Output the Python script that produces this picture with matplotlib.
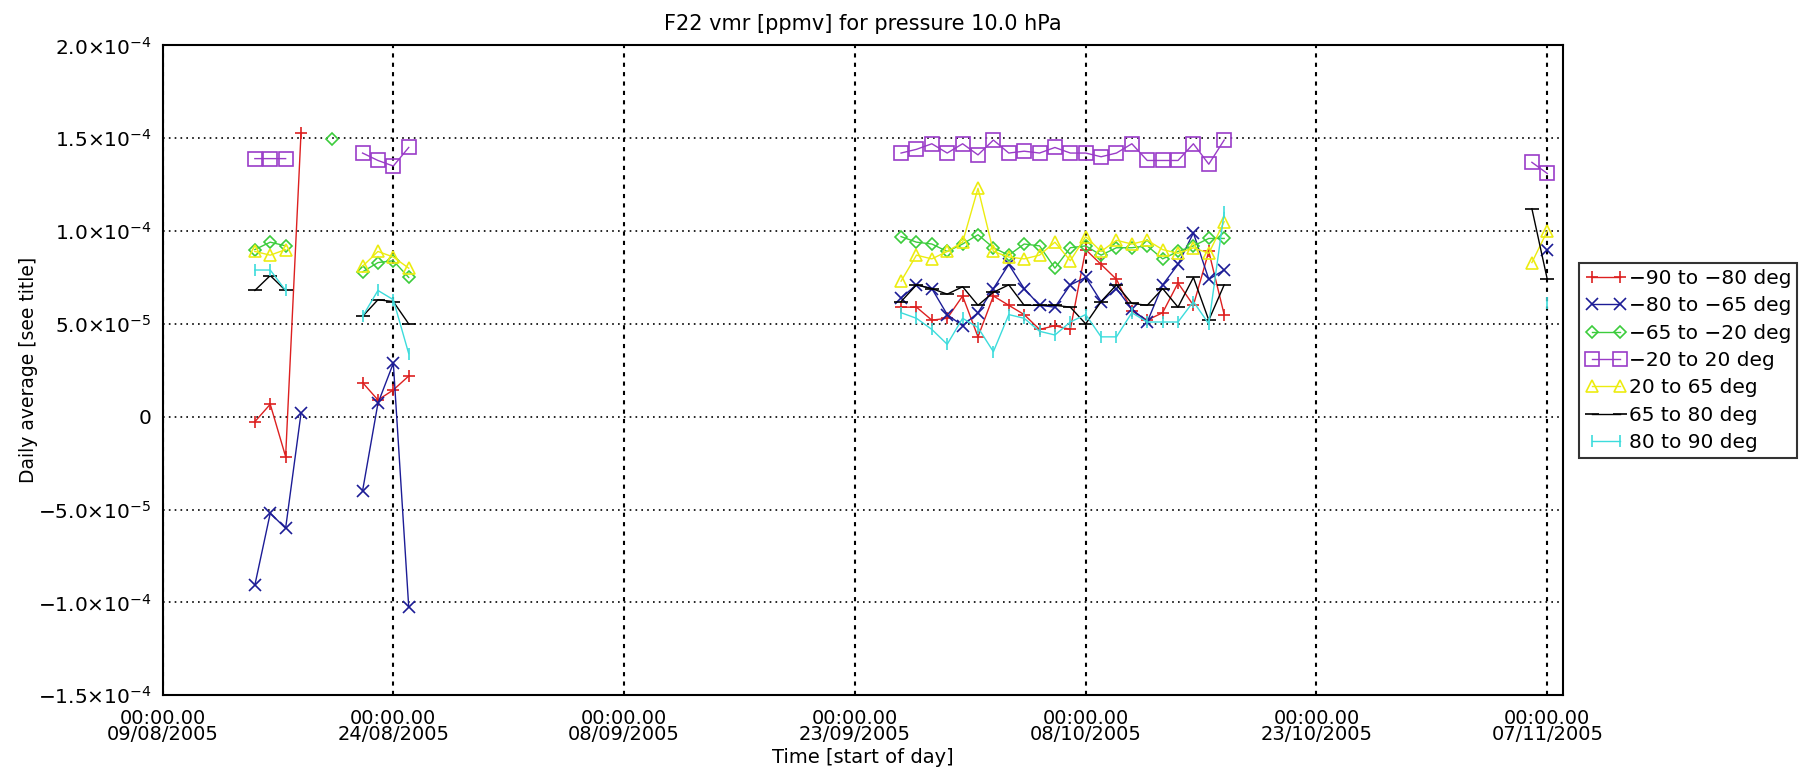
import numpy as np
import pandas as pd
import matplotlib
matplotlib.use("Agg")
import matplotlib.pyplot as plt
from matplotlib.ticker import FixedLocator, FuncFormatter

# day offsets from 09/08/2005 (start of day)
days = [6, 7, 8, 9, 11, 13, 14, 15, 16,
        48, 49, 50, 51, 52, 53, 54, 55, 56, 57, 58,
        59, 60, 61, 62, 63, 64, 65, 66, 67, 68, 69,
        89, 90]

nan = np.nan
# daily averages in units of 1e-5 ppmv
lat_m90_m80 = [-0.27, 0.67, -2.15, 15.27, nan, 1.84, 0.9, 1.44, 2.19,
               5.9, 5.9, 5.2, 5.3, 6.5, 4.3, 6.5, 6.0, 5.5, 4.7, 4.9,
               4.7, 9.0, 8.2, 7.4, 5.7, 5.2, 5.6, 7.2, 6.0, 8.9, 5.5,
               nan, nan]
lat_m80_m65 = [-9.07, -5.2, -6.01, 0.18, nan, -4.0, 0.72, 2.88, -10.24,
               6.4, 7.1, 6.9, 5.5, 4.9, 5.6, 6.9, 8.2, 6.9, 6.0, 5.9,
               7.1, 7.5, 6.2, 6.9, 5.8, 5.1, 7.1, 8.2, 9.9, 7.4, 7.9,
               nan, 9.0]
lat_m65_m20 = [9.0, 9.4, 9.2, nan, 14.95, 7.8, 8.3, 8.4, 7.5,
               9.7, 9.4, 9.3, 8.9, 9.3, 9.8, 9.1, 8.7, 9.3, 9.2, 8.0,
               9.1, 9.2, 8.7, 9.1, 9.1, 9.2, 8.5, 8.9, 9.2, 9.6, 9.6,
               nan, nan]
lat_m20_20 = [13.9, 13.9, 13.9, nan, nan, 14.2, 13.8, 13.5, 14.5,
              14.2, 14.4, 14.7, 14.2, 14.7, 14.1, 14.9, 14.2, 14.3, 14.2, 14.5,
              14.2, 14.2, 14.0, 14.2, 14.7, 13.8, 13.8, 13.8, 14.7, 13.6, 14.9,
              13.7, 13.1]
lat_20_65 = [8.9, 8.7, 9.0, nan, nan, 8.1, 8.9, 8.6, 8.0,
             7.3, 8.7, 8.5, 8.9, 9.4, 12.3, 8.9, 8.6, 8.5, 8.7, 9.4,
             8.4, 9.7, 8.9, 9.5, 9.3, 9.5, 9.0, 8.8, 9.1, 8.8, 10.5,
             8.3, 10.0]
lat_65_80 = [6.8, 7.6, 6.8, nan, nan, 5.4, 6.3, 6.2, 5.0,
             6.2, 7.1, 6.9, 6.6, 7.0, 6.0, 6.7, 7.1, 6.0, 6.0, 6.0,
             5.9, 5.0, 6.2, 7.1, 6.1, 6.0, 6.9, 5.9, 7.5, 5.2, 7.1,
             11.2, 7.4]
lat_80_90 = [7.9, 7.9, 6.8, nan, nan, 5.4, 6.8, 6.3, 3.4,
             5.6, 5.3, 4.7, 3.9, 5.3, 4.8, 3.5, 5.5, 5.3, 4.6, 4.4,
             5.1, 5.5, 4.3, 4.3, 5.6, 5.1, 5.1, 5.1, 6.2, 5.0, 11.0,
             nan, 6.1]

labels = ['\u221290 to \u221280 deg', '\u221280 to \u221265 deg', '\u221265 to \u221220 deg',
          '\u221220 to 20 deg', '20 to 65 deg', '65 to 80 deg', '80 to 90 deg']
colors = ['#dd2020', '#1c1c96', '#3ccc3c', '#9a3cc8', '#ecec10', 'black', '#3cdcdc']
markers = ['+', 'x', 'D', 's', '^', '_', '|']
msizes = [8, 8, 6, 9.5, 8, 10, 8]

start = pd.Timestamp('2005-08-09')
tick_days = [0, 15, 30, 45, 60, 75, 90]
y_ticks = [-1.5e-4, -1.0e-4, -5e-5, 0, 5e-5, 1.0e-4, 1.5e-4, 2.0e-4]


def with_gaps(x, y):
    # break the line wherever consecutive days are missing
    xs, ys = [], []
    for i in range(len(x)):
        if i > 0 and x[i] - x[i - 1] > 1:
            xs.append(nan)
            ys.append(nan)
        xs.append(x[i])
        ys.append(y[i])
    return np.array(xs, float), np.array(ys, float) * 1e-5


def ytick_fmt(v, pos):
    if abs(v) < 1e-12:
        return '0'
    exp = int(np.floor(np.log10(abs(v))))
    mant = v / 10 ** exp
    sign = '\u2212' if mant < 0 else ''
    return r'%s$%.1f{\times}10^{%d}$' % (sign, abs(mant), exp)


fig = plt.figure(figsize=(18.16, 7.82), dpi=100)
ax = fig.add_axes([0.0895, 0.111, 0.771, 0.831])

series = [lat_m90_m80, lat_m80_m65, lat_m65_m20, lat_m20_20, lat_20_65, lat_65_80, lat_80_90]
for vals, lab, c, m, ms in zip(series, labels, colors, markers, msizes):
    x, y = with_gaps(days, vals)
    ax.plot(x, y, color=c, lw=1.0, marker=m, ms=ms, mfc='none', mec=c,
            mew=1.2, label=lab)

ax.set_xlim(0, 91)
ax.set_ylim(-1.5e-4, 2.0e-4)
ax.xaxis.set_major_locator(FixedLocator(tick_days))
ax.xaxis.set_major_formatter(FuncFormatter(
    lambda v, p: '00:00.00\n' + (start + pd.Timedelta(days=v)).strftime('%d/%m/%Y')))
ax.yaxis.set_major_locator(FixedLocator(y_ticks))
ax.yaxis.set_major_formatter(FuncFormatter(ytick_fmt))
ax.tick_params(axis='x', length=0, labelsize=14, pad=10)
ax.tick_params(axis='y', length=0, labelsize=14.5, pad=8)
for lbl in ax.get_xticklabels():
    lbl.set_linespacing(0.8)
ax.grid(True, axis='x', color='black', linestyle=(0, (2, 2.5)), linewidth=1.5)
ax.grid(True, axis='y', color='black', linestyle=(0, (1, 2.5)), linewidth=1.2)
for s in ax.spines.values():
    s.set_linewidth(1.5)

ax.set_title('F22 vmr [ppmv] for pressure 10.0 hPa', fontsize=15, pad=11)
ax.set_xlabel('Time [start of day]', fontsize=14, labelpad=3)
ax.set_ylabel('Daily average [see title]', fontsize=13.5, labelpad=0)

leg = ax.legend(loc='center left', bbox_to_anchor=(1.012, 0.515), numpoints=2,
                fontsize=14.5, frameon=True, fancybox=False, edgecolor='black',
                handlelength=2.0, handletextpad=0.15, borderpad=0.3,
                labelspacing=0.42, borderaxespad=0)
leg.get_frame().set_linewidth(1.5)

fig.savefig('out.png', dpi=100)
